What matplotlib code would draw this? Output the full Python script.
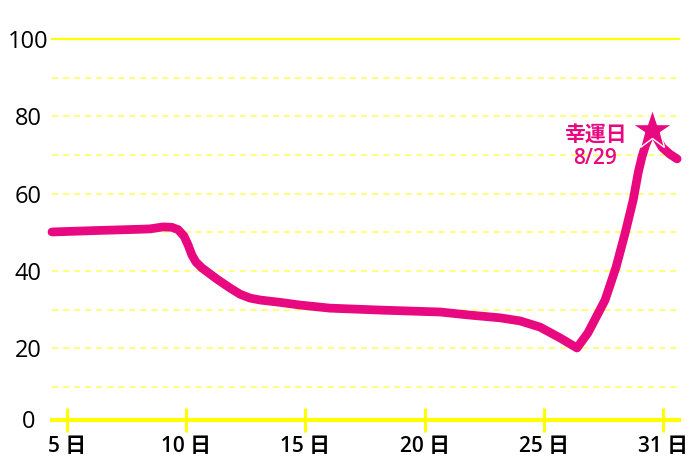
import matplotlib
matplotlib.use("Agg")
import matplotlib.pyplot as plt
import matplotlib.transforms as mtransforms

plt.rcParams['font.family'] = ['Open Sans', 'Noto Sans CJK JP', 'DejaVu Sans']

# data (day position, score)
days = [4.37, 6.38, 8.06, 8.48, 9.03, 9.40, 9.66, 9.91, 10.08, 10.24, 10.41,
        10.66, 11.29, 11.84, 12.26, 12.68, 13.1, 13.93, 14.77, 16.03, 18.13,
        20.65, 21.9, 23.16, 24.0, 24.84, 25.68, 26.39, 26.85, 27.57, 28.03,
        28.41, 28.75, 28.96, 29.12, 29.26, 29.54, 29.96, 30.29, 30.59]
scores = [50.1, 50.5, 50.8, 50.9, 51.4, 51.3, 50.7, 49.0, 46.7, 44.1, 42.3,
          40.8, 37.9, 35.6, 34.0, 33.0, 32.5, 31.9, 31.2, 30.4, 29.9,
          29.4, 28.6, 27.9, 27.1, 25.5, 22.7, 20.1, 24.0, 32.5, 41.0,
          49.8, 58.4, 65.5, 69.6, 72.4, 76.5, 72.0, 70.2, 69.0]

lucky_day = 29.54
lucky_score = 76.5
lucky_label = "幸運日\n8/29"

xtick_pos = [5, 10, 15, 20, 25, 30]
xtick_labels = ["5 日", "10 日", "15 日", "20 日", "25 日", "31 日"]
ytick_pos = [0, 20, 40, 60, 80, 100]
grid_dashed = [10, 20, 30, 40, 50, 60, 70, 80, 90]

pink = "#e8087f"
yellow = "#ffff00"
pale_yellow = "#ffff80"

fig = plt.figure(figsize=(7, 4.67), dpi=100)
ax = fig.add_axes([52 / 700, 41.3 / 467, 627 / 700, 386.7 / 467])
ax.set_xlim(4.37, 30.67)
ax.set_ylim(0, 100)

# grid lines
for g in grid_dashed:
    ax.axhline(g, color=pale_yellow, lw=1.5, dashes=(2.9, 2.4), zorder=1)
ax.axhline(100, color=yellow, lw=1.6, zorder=1, clip_on=False)

# the curve and the lucky-day star
ax.plot(days, scores, color=pink, lw=6.3, solid_capstyle="round",
        solid_joinstyle="round", zorder=3, clip_on=False)
ax.plot([lucky_day], [lucky_score], marker="*", ms=30, color=pink,
        mec="white", mew=1, zorder=4, clip_on=False)
ax.annotate(lucky_label, xy=(lucky_day, lucky_score), xytext=(-41, -12.5),
            textcoords="offset points", ha="center", va="center",
            color=pink, fontsize=15, fontweight="semibold", linespacing=1.15)

# axes styling
for s in ["top", "right", "left"]:
    ax.spines[s].set_visible(False)
ax.spines["bottom"].set_color(yellow)
ax.spines["bottom"].set_linewidth(3)
ax.spines["bottom"].set_position(("outward", -4.1))

ax.set_xticks(xtick_pos)
ax.set_xticklabels(xtick_labels, fontweight="semibold")
ax.tick_params(axis="x", direction="inout", length=17, width=2.2,
               color=yellow, labelsize=15, pad=3)

ax.set_yticks(ytick_pos)
ax.set_yticklabels([str(v) for v in ytick_pos], fontweight="medium")
ax.tick_params(axis="y", length=0, labelsize=17, pad=17)
for lab in ax.get_yticklabels():
    lab.set_horizontalalignment("center")

# the "0" sits on the baseline rather than the true zero
zero_lab = ax.get_yticklabels()[0]
zero_lab.set_transform(zero_lab.get_transform() +
                       mtransforms.ScaledTranslation(0, 7 / 100, fig.dpi_scale_trans))

fig.savefig("out.png", dpi=100)
